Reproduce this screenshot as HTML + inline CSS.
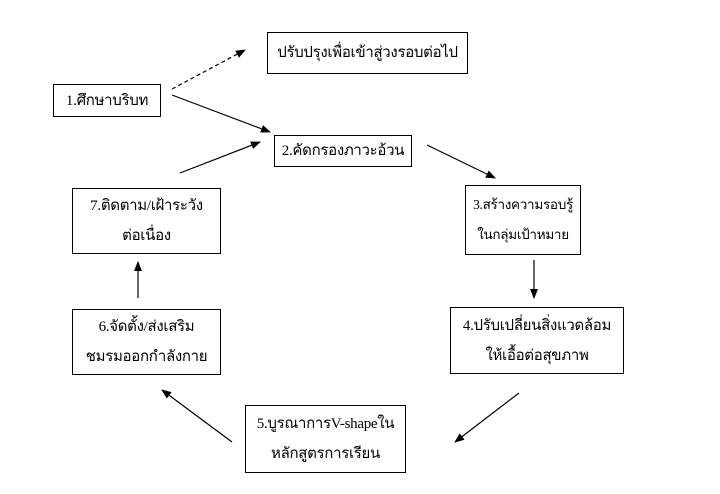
<!DOCTYPE html>
<html><head><meta charset="utf-8"><style>
body{margin:0;width:720px;height:494px;background:#fff;position:relative;overflow:hidden;font-family:"Liberation Serif","DejaVu Serif",serif;font-size:15px;color:#000;letter-spacing:-0.3px}
.b{position:absolute;border:1.3px solid #000;box-sizing:border-box;display:flex;flex-direction:column;justify-content:center;align-items:center;text-align:center;line-height:30px;white-space:nowrap}
svg{position:absolute;left:0;top:0}
</style></head><body>
<svg width="720" height="494">
<defs><marker id="a" markerWidth="10" markerHeight="8" refX="9" refY="4" orient="auto" markerUnits="userSpaceOnUse"><path d="M0,0L10,4L0,8z" fill="#000"/></marker></defs>
<g stroke="#000" stroke-width="1.2" fill="none" marker-end="url(#a)">
<line x1="172" y1="89" x2="245" y2="50" stroke-dasharray="4,3"/>
<line x1="172" y1="95" x2="270" y2="132"/>
<line x1="180" y1="173" x2="260" y2="142"/>
<line x1="427" y1="145" x2="495" y2="178"/>
<line x1="534" y1="260" x2="534" y2="298"/>
<line x1="519" y1="393" x2="455" y2="442"/>
<line x1="232" y1="442" x2="162" y2="390"/>
<line x1="138" y1="298" x2="138" y2="262"/>
</g></svg>
<div class="b" style="left:267px;top:32px;width:201px;height:42px">ปรับปรุงเพื่อเข้าสู่วงรอบต่อไป</div>
<div class="b" style="left:53px;top:84px;width:108px;height:33px">1.ศึกษาบริบท</div>
<div class="b" style="left:274px;top:135px;width:138px;height:32px">2.คัดกรองภาวะอ้วน</div>
<div class="b" style="left:465px;top:185px;width:116px;height:70px;font-size:13.5px"><span>3.สร้างความรอบรู้</span><span>ในกลุ่มเป้าหมาย</span></div>
<div class="b" style="left:72px;top:188px;width:149px;height:66px"><span>7.ติดตาม/เฝ้าระวัง</span><span>ต่อเนื่อง</span></div>
<div class="b" style="left:450px;top:307px;width:174px;height:67px"><span>4.ปรับเปลี่ยนสิ่งแวดล้อม</span><span>ให้เอื้อต่อสุขภาพ</span></div>
<div class="b" style="left:72px;top:309px;width:149px;height:66px"><span>6.จัดตั้ง/ส่งเสริม</span><span>ชมรมออกกำลังกาย</span></div>
<div class="b" style="left:245px;top:405px;width:161px;height:68px"><span>5.บูรณาการV-shapeใน</span><span>หลักสูตรการเรียน</span></div>
</body></html>
